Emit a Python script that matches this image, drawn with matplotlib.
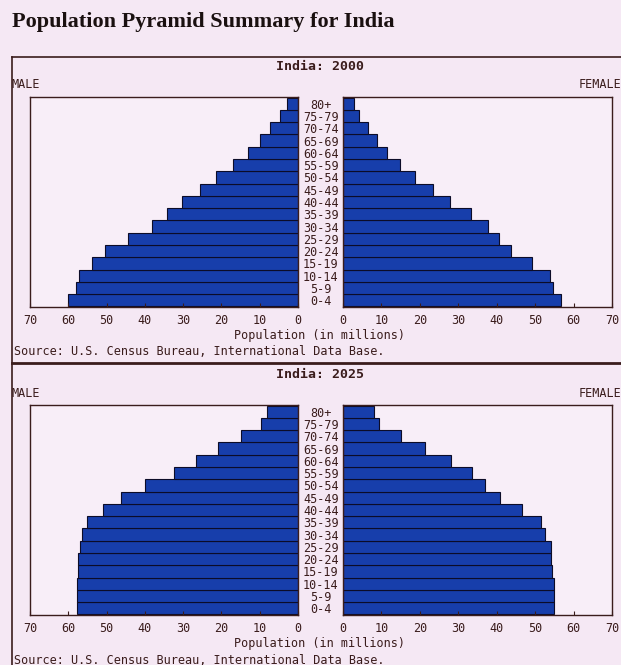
import numpy as np
import matplotlib.pyplot as plt
from matplotlib.lines import Line2D

ages = ['0-4', '5-9', '10-14', '15-19', '20-24', '25-29', '30-34', '35-39',
        '40-44', '45-49', '50-54', '55-59', '60-64', '65-69', '70-74', '75-79', '80+']

male_2000 = [60.2, 58.0, 57.2, 53.8, 50.3, 44.4, 38.2, 34.1, 30.2, 25.7,
             21.3, 17.0, 13.0, 9.8, 7.2, 4.8, 3.0]
female_2000 = [56.8, 54.6, 53.9, 49.3, 43.7, 40.5, 37.7, 33.3, 27.8, 23.4,
               18.8, 14.9, 11.4, 8.8, 6.6, 4.1, 2.8]
male_2025 = [57.6, 57.6, 57.8, 57.5, 57.5, 57.0, 56.3, 55.2, 50.9, 46.2,
             40.0, 32.5, 26.6, 20.8, 14.9, 9.7, 8.0]
female_2025 = [54.8, 54.8, 54.8, 54.5, 54.1, 54.1, 52.6, 51.6, 46.7, 40.9,
               37.0, 33.5, 28.1, 21.3, 15.0, 9.3, 8.1]

xticks = [0, 10, 20, 30, 40, 50, 60, 70]

W, H = 621, 665
BG = '#f5e8f4'
BAR = '#173eab'
EDGE = '#0c0c28'
INK = '#3a1c1c'
MONO = 'DejaVu Sans Mono'

fig = plt.figure(figsize=(W / 100, H / 100), dpi=100, facecolor=BG)


def fx(px):
    return px / W


def fy(py):
    return 1 - py / H


def axes_px(x0, y0, x1, y1):
    return fig.add_axes([fx(x0), fy(y1), fx(x1) - fx(x0), (y1 - y0) / H])


def panel(top, male, female, year):
    y = np.arange(len(ages))
    axl = axes_px(30, top + 40, 298, top + 250)
    axr = axes_px(343, top + 40, 612, top + 250)
    for ax, vals in ((axl, male), (axr, female)):
        ax.set_facecolor('#f8eef8')
        ax.barh(y, vals, height=1.0, color=BAR, edgecolor=EDGE, linewidth=0.8)
        ax.set_xlim(0, 70)
        ax.set_ylim(-0.55, 16.55)
        ax.set_xticks(xticks)
        ax.set_xticklabels([str(t) for t in xticks], family=MONO, fontsize=8.5, color=INK)
        ax.tick_params(axis='x', direction='in', length=3, pad=5, color=INK)
        for s in ax.spines.values():
            s.set_color(INK)
            s.set_linewidth(1.0)
    axl.invert_xaxis()
    axl.set_yticks([])
    axr.set_yticks(y)
    axr.set_yticklabels(ages, family=MONO, fontsize=8.5, color=INK)
    axr.tick_params(axis='y', length=0, pad=16)
    for lab in axr.get_yticklabels():
        lab.set_ha('center')

    fig.text(fx(320), fy(top + 10), 'India: ' + year, family=MONO, fontsize=9.5,
             fontweight='bold', color=INK, ha='center', va='center')
    fig.text(fx(12), fy(top + 28), 'MALE', family=MONO, fontsize=8.5,
             color=INK, ha='left', va='center')
    fig.text(fx(579), fy(top + 28), 'FEMALE', family=MONO, fontsize=8.5,
             color=INK, ha='left', va='center')
    fig.text(fx(320), fy(top + 278), 'Population (in millions)', family=MONO,
             fontsize=8.5, color=INK, ha='center', va='center')
    fig.text(fx(14), fy(top + 295), 'Source: U.S. Census Bureau, International Data Base.',
             family=MONO, fontsize=8.5, color=INK, ha='left', va='center')


fig.text(fx(12), fy(22), 'Population Pyramid Summary for India',
         family='Liberation Serif', fontweight='bold', fontsize=16,
         color='#1a1010', ha='left', va='center')

# frame lines around the two panels
fig.add_artist(Line2D([fx(12), fx(621)], [fy(57), fy(57)], color=INK, lw=1.2))
fig.add_artist(Line2D([fx(12), fx(12)], [fy(57), fy(665)], color=INK, lw=1.2))
fig.add_artist(Line2D([fx(12), fx(621)], [fy(363), fy(363)], color=INK, lw=2.0))

panel(57, male_2000, female_2000, '2000')
panel(365, male_2025, female_2025, '2025')

fig.savefig('out.png', dpi=100, facecolor=BG)
